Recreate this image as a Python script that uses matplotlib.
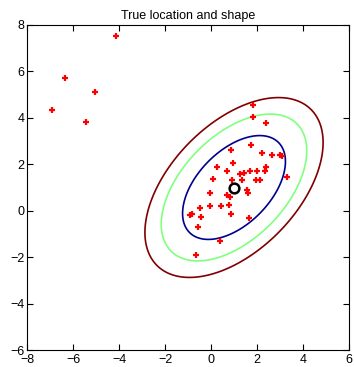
import matplotlib
matplotlib.use('Agg')
import matplotlib.pyplot as plt
import numpy as np

plt.rcParams['font.family'] = ['Liberation Sans', 'DejaVu Sans']

# observed sample (clean part + outliers)
x_pts = [1.84, 1.84, 2.38, 1.74, 0.87, 2.22, 2.67, 3.0, 3.10, 0.97,
         0.25, 0.68, 2.39, 2.35, 1.70, 2.01, 1.26, 1.42, 1.36, 1.96,
         2.13, 3.29, 0.10, 0.93, 1.55, 1.61, -0.04, 0.71, 0.83, 0.77,
         0.43, -0.04, -0.47, 0.87, -0.91, -0.83, -0.43, 1.64, -0.58, 0.39,
         -0.67]
y_pts = [4.55, 4.02, 3.76, 2.81, 2.60, 2.50, 2.38, 2.41, 2.34, 2.04,
         1.87, 1.72, 1.87, 1.72, 1.72, 1.72, 1.56, 1.61, 1.32, 1.32,
         1.32, 1.46, 1.35, 1.32, 0.89, 0.75, 0.77, 0.67, 0.57, 0.23,
         0.20, 0.20, 0.12, -0.12, -0.19, -0.16, -0.29, -0.32, -0.69, -1.30,
         -1.91]
x_out = [-4.13, -6.35, -5.06, -6.93, -5.43]
y_out = [7.54, 5.70, 5.10, 4.32, 3.82]

# true location and shape
center = [1.0, 1.0]
cov = [[1.0, 0.5], [0.5, 1.0]]
levels = [5.0, 10.0, 15.0]
level_colors = [(0, 0, 0.56), (0.5, 1, 0.5), (0.5, 0, 0)]

fig = plt.figure(figsize=(3.54, 3.67), dpi=100)
ax = fig.add_axes([0.0763, 0.0463, 0.9096, 0.8856])

gx, gy = np.meshgrid(np.linspace(-8, 6, 400), np.linspace(-6, 8, 400))
inv = np.linalg.inv(np.array(cov))
dx = gx - center[0]
dy = gy - center[1]
d2 = inv[0, 0] * dx * dx + 2 * inv[0, 1] * dx * dy + inv[1, 1] * dy * dy
ax.contour(gx, gy, d2, levels=levels, colors=level_colors, linewidths=1.2)

ax.plot(x_pts + x_out, y_pts + y_out, 'r+', markersize=5, markeredgewidth=1.6)
ax.plot(center[0], center[1], 'o', markerfacecolor='none',
        markeredgecolor='black', markersize=7, markeredgewidth=1.8)

ax.set_xlim(-8, 6)
ax.set_ylim(-6, 8)
ax.set_xticks(range(-8, 7, 2))
ax.set_yticks(range(-6, 9, 2))
ax.tick_params(direction='in', top=True, right=True, length=4, labelsize=9)
ax.tick_params(axis='y', pad=2)
ax.tick_params(axis='x', pad=3)
ax.set_title('True location and shape', fontsize=9, pad=4)

fig.savefig('out.png', dpi=100)
